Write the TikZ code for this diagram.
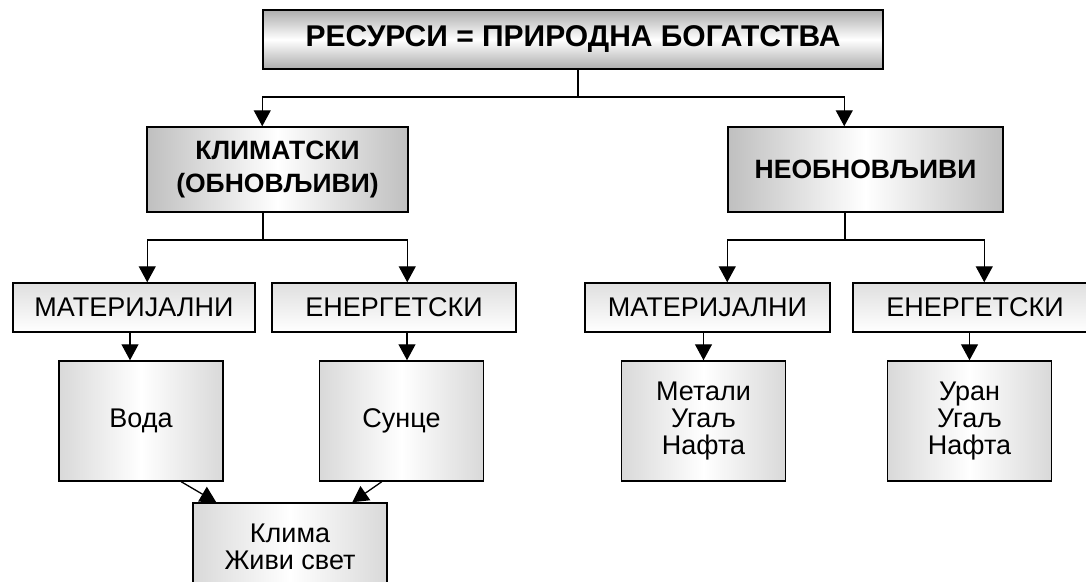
\documentclass[tikz,border=0pt]{standalone}
\usepackage{fontspec}
\setmainfont{Liberation Sans}
\usetikzlibrary{arrows.meta,calc}

\begin{document}
\begin{tikzpicture}[x=1pt, y=-1pt,
    box/.style={draw=black, line width=1.5pt, inner sep=0pt, align=center,
        font=\fontsize{27}{27}\selectfont},
    topbox/.style={box, minimum width=620pt, minimum height=59pt,
        top color=gray!65, bottom color=gray!65, middle color=white,
        font=\fontsize{30}{30}\selectfont\bfseries},
    headbox/.style={box, minimum height=85pt,
        left color=gray!50, right color=gray!50, middle color=white,
        font=\fontsize{26.5}{33}\selectfont\bfseries},
    kindbox/.style={box, minimum height=49pt,
        top color=gray!25, bottom color=white},
    itembox/.style={box, minimum width=164pt, minimum height=120pt,
        left color=gray!30, right color=gray!30, middle color=white},
    link/.style={line width=1.3pt},
    arr/.style={link, -{Triangle[width=17pt,length=16pt]}}
]
    \useasboundingbox (0,0) rectangle (1086,581);

    \node[topbox] (res) at (573,39.5) {РЕСУРСИ = ПРИРОДНА БОГАТСТВА};
    \node[headbox, minimum width=261pt] (klim) at (277.5,169.5) {КЛИМАТСКИ\\(ОБНОВЉИВИ)};
    \node[headbox, minimum width=275pt] (neob) at (865.5,169.5) {НЕОБНОВЉИВИ};

    \node[kindbox, minimum width=242pt] (mat1) at (134,307.5) {МАТЕРИЈАЛНИ};
    \node[kindbox, minimum width=244pt] (en1) at (394,307.5) {ЕНЕРГЕТСКИ};
    \node[kindbox, minimum width=245pt] (mat2) at (707.5,307.5) {МАТЕРИЈАЛНИ};
    \node[kindbox, minimum width=244pt] (en2) at (975,307.5) {ЕНЕРГЕТСКИ};

    \node[itembox] (voda) at (141,421) {Вода};
    \node[itembox] (sunce) at (401.5,421) {Сунце};
    \node[itembox] (metali) at (703.5,421) {Метали\\Угаљ\\Нафта};
    \node[itembox] (uran) at (969.5,421) {Уран\\Угаљ\\Нафта};
    \node[itembox, minimum width=194pt, minimum height=87pt] (klima) at (290,546.5) {Клима\\Живи свет};

    \coordinate (rsplit) at (578,97);
    \coordinate (ksplit) at (263,240);
    \coordinate (nsplit) at (845,240);
    \coordinate (vtop) at ($(voda.north)+(-11,0)$);
    \coordinate (stop) at ($(sunce.north)+(5.5,0)$);

    \draw[link] (res.south -| rsplit) -- (rsplit);
    \draw[arr] (rsplit) -| ($(klim.north west)+(116,0)$);
    \draw[arr] (rsplit) -| ($(neob.north west)+(117,0)$);

    \draw[link] (klim.south -| ksplit) -- (ksplit);
    \draw[arr] (ksplit) -| ($(mat1.north west)+(135,0)$);
    \draw[arr] (ksplit) -| ($(en1.north west)+(136,0)$);

    \draw[link] (neob.south -| nsplit) -- (nsplit);
    \draw[arr] (nsplit) -| ($(mat2.north west)+(143,0)$);
    \draw[arr] (nsplit) -| ($(en2.north west)+(132,0)$);

    \draw[arr] (mat1.south -| vtop) -- (vtop);
    \draw[arr] (en1.south -| stop) -- (stop);
    \draw[arr] (mat2.south -| metali.north) -- (metali.north);
    \draw[arr] (en2.south -| uran.north) -- (uran.north);

    \draw[arr] ($(voda.south west)+(123,0)$) -- ($(klima.north west)+(24,0)$);
    \draw[arr] ($(sunce.south west)+(63,0)$) -- ($(klima.north west)+(160,0)$);
\end{tikzpicture}
\end{document}
